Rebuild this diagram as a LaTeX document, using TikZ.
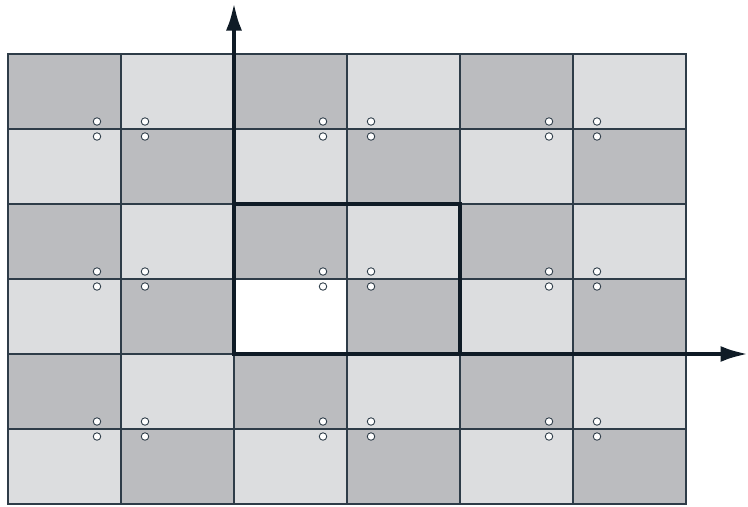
\documentclass[tikz,border=0pt]{standalone}
\usepackage{tikz}
\usetikzlibrary{arrows.meta}
\definecolor{gridline}{HTML}{2E3C48}
\definecolor{axisline}{HTML}{0F1B26}
\definecolor{darkcell}{HTML}{BBBCBF}
\definecolor{lightcell}{HTML}{DCDDDF}
\begin{document}
\begin{tikzpicture}[
        x=2.26cm, y=1.5cm,
        cell/.style={draw=gridline, line width=0.6pt},
        site/.style={circle, draw=gridline, fill=white, line width=0.5pt, minimum size=0.15cm, inner sep=0pt},
        unitbox/.style={draw=axisline, line width=2.4pt},
        axis/.style={-{Latex[length=0.55cm, width=0.32cm]}, draw=axisline, fill=axisline, line width=2.2pt}
    ]
    \useasboundingbox (-2.0708,-2.0267) rectangle (4.5487,4.72);

    % checkerboard
    \foreach \i in {-2,...,3}{
        \foreach \j in {-2,...,3}{
            \pgfmathparse{int(mod(\i+\j+10,2))}
            \ifnum\pgfmathresult=1
                \draw[cell, fill=darkcell] (\i,\j) rectangle ++(1,1);
            \else
                \draw[cell, fill=lightcell] (\i,\j) rectangle ++(1,1);
            \fi
        }
    }
    \draw[cell, fill=white] (0,0) rectangle (1,1);

    % lattice sites
    \foreach \i in {-1,1,3}{
        \foreach \j in {-1,1,3}{
            \node[site] (s-\i-\j-a) at (\i-0.2124,\j+0.1) {};
            \node[site] (s-\i-\j-b) at (\i+0.2124,\j+0.1) {};
            \node[site] (s-\i-\j-c) at (\i-0.2124,\j-0.1) {};
            \node[site] (s-\i-\j-d) at (\i+0.2124,\j-0.1) {};
        }
    }

    % unit cell and axes
    \draw[unitbox] (0,0) rectangle (2,2);
    \coordinate (origin) at (0,0);
    \coordinate (xend) at (4.5487,0);
    \coordinate (yend) at (0,4.68);
    \draw[axis] (origin) -- (xend);
    \draw[axis] (origin) -- (yend);
\end{tikzpicture}
\end{document}
